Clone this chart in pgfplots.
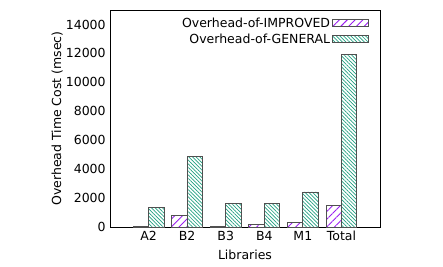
\documentclass[border=0pt]{standalone}
\usepackage{pgfplots}
\pgfplotsset{compat=1.18}
\usepackage{fontspec}
\setmainfont{DejaVu Sans}
\usetikzlibrary{patterns.meta}
\definecolor{impcol}{HTML}{9A1FF0}
\definecolor{gencol}{HTML}{20A080}
\definecolor{baredge}{HTML}{505050}
\begin{document}
\fontsize{12.5bp}{14bp}\selectfont
\begin{tikzpicture}[x=1bp,y=1bp]
\useasboundingbox (-110,-39) rectangle (333,227);
\begin{axis}[
  at={(0,0)}, anchor=south west,
  scale only axis, width=270bp, height=217bp,
  xmin=-1, xmax=6, ymin=0, ymax=15000,
  xtick={0,1,2,3,4,5},
  xticklabels={A2,B2,B3,B4,M1,Total},
  ytick={0,2000,4000,6000,8000,10000,12000,14000},
  major tick length=0pt,
  /pgf/number format/assume math mode=true,
  scaled y ticks=false,
  yticklabel={\pgfmathprintnumber[fixed,precision=0,1000 sep={}]{\tick}},
  axis line style={line width=0.9bp},
  ylabel={Overhead Time Cost (msec)},
  xlabel={Libraries},
  every axis y label/.style={at={(axis description cs:-0.196,0.5)}, rotate=90, anchor=center},
  every axis x label/.style={at={(axis description cs:0.5,-0.129)}, anchor=center},
  legend style={draw=none, fill=none, at={(axis description cs:0.96,0.975)}, anchor=north east,
    row sep=1bp, inner sep=0pt},
  legend cell align=right,
  legend plot pos=right,
  legend image code/.code={\draw[#1] (6bp,-3bp) rectangle (42bp,4bp);},
]
\addplot[ybar, bar width=15.4bp, bar shift=-7.7bp, draw=baredge, line width=0.9bp,
  pattern={Lines[angle=45,distance=5.5bp,line width=0.9bp]}, pattern color=impcol]
  coordinates {(0,50) (1,780) (2,60) (3,150) (4,320) (5,1500)};
\addlegendentry{Overhead-of-IMPROVED}
\addplot[ybar, bar width=15.4bp, bar shift=7.7bp, draw=baredge, line width=0.9bp,
  pattern={Lines[angle=-45,distance=2.6bp,line width=0.7bp]}, pattern color=gencol]
  coordinates {(0,1350) (1,4850) (2,1650) (3,1650) (4,2420) (5,11900)};
\addlegendentry{Overhead-of-GENERAL}
\end{axis}
\end{tikzpicture}
\end{document}
